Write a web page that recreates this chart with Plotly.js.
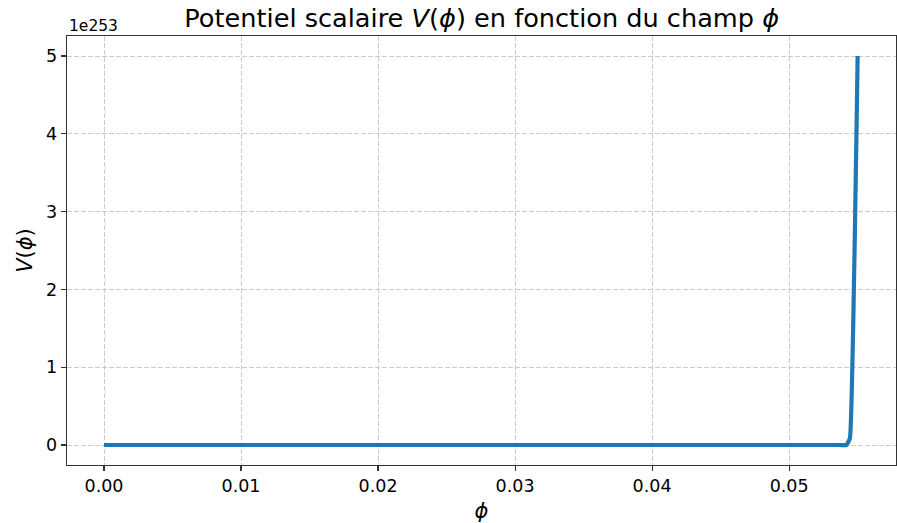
<!DOCTYPE html>
<html>
<head>
<meta charset="utf-8">
<script src="https://cdn.plot.ly/plotly-3.0.1.min.js"></script>
<style>html,body{margin:0;padding:0;background:#fff}#chart{width:897px;height:523px}</style>
</head>
<body>
<div id="chart"></div>
<script>
// phi values and V(phi) in units of 1e253
const phi = [0.0, 0.005, 0.01, 0.015, 0.02, 0.025, 0.03, 0.035, 0.04, 0.045, 0.05, 0.0535, 0.0542, 0.05444, 0.055];
const V = [0, 0, 0, 0, 0, 0, 0, 0, 0, 0, 0, 0, 0.002, 0.09, 5.0];
const xTicks = [0.0, 0.01, 0.02, 0.03, 0.04, 0.05];
const xTickText = ["0.00", "0.01", "0.02", "0.03", "0.04", "0.05"];
const yTicks = [0, 1, 2, 3, 4, 5];
const yTickText = ["0", "1", "2", "3", "4", "5"];
const exponentLabel = "1e253";

const font = "DejaVu Sans, sans-serif";
const trace = {
  x: phi, y: V, type: "scatter", mode: "lines",
  line: {color: "#1f77b4", width: 4.2, shape: "spline", smoothing: 0.3}, hoverinfo: "none"
};
const axisCommon = {
  showline: true, linecolor: "#333", linewidth: 1.3, mirror: true,
  ticks: "outside", ticklen: 5, tickcolor: "#333", tickwidth: 1.1,
  showgrid: true, gridcolor: "#cccccc", griddash: "4.5px,2.5px", gridwidth: 1,
  zeroline: false, tickfont: {family: font, size: 17.5, color: "#000"}
};
const layout = {
  width: 897, height: 523,
  margin: {l: 67, r: 1, t: 36, b: 58},
  paper_bgcolor: "#fff", plot_bgcolor: "#fff",
  showlegend: false,
  title: {text: "Potentiel scalaire <i>V</i>(<i>ϕ</i>) en fonction du champ <i>ϕ</i>",
          font: {family: font, size: 25.6, color: "#000"}, x: 0.537, xanchor: "center", y: 0.965, yanchor: "middle"},
  xaxis: Object.assign({}, axisCommon, {
    range: [-0.0027, 0.0578], tickvals: xTicks, ticktext: xTickText,
    title: {text: "<i>ϕ</i>", font: {family: font, size: 21, color: "#000"}, standoff: 8}
  }),
  yaxis: Object.assign({}, axisCommon, {
    range: [-0.257, 5.257], tickvals: yTicks, ticktext: yTickText,
    title: {text: "<i>V</i>(<i>ϕ</i>)", font: {family: font, size: 21, color: "#000"}, standoff: 7}
  }),
  annotations: [{
    text: exponentLabel, xref: "paper", yref: "paper", x: 0, y: 1,
    xanchor: "left", yanchor: "bottom", showarrow: false, yshift: -1,
    font: {family: font, size: 15.5, color: "#000"}
  }]
};
Plotly.newPlot("chart", [trace], layout, {displayModeBar: false, staticPlot: true});
</script>
</body>
</html>
